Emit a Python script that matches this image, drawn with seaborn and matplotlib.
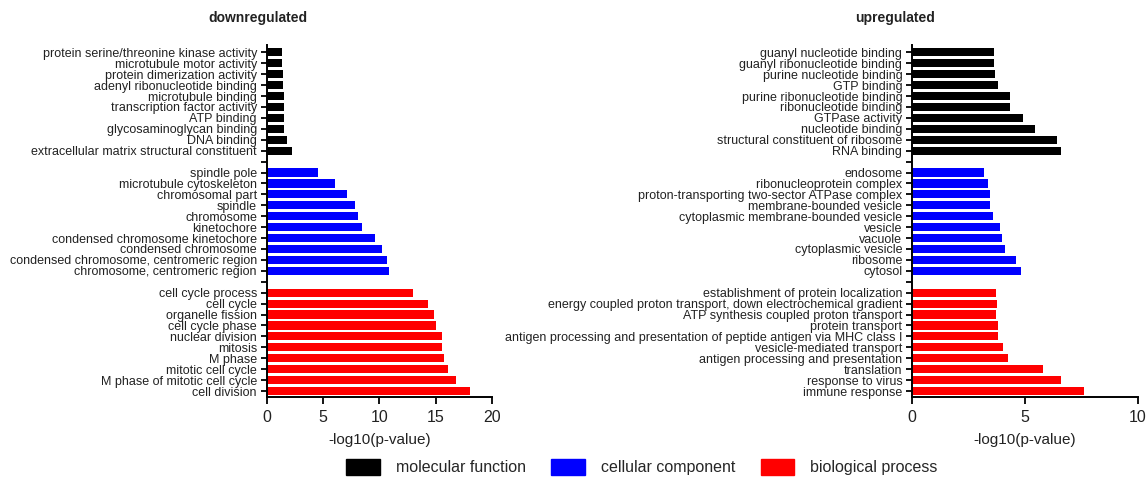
import matplotlib
matplotlib.use("Agg")
import matplotlib.pyplot as plt
from matplotlib.patches import Patch
import seaborn as sns
import pandas as pd

sns.set_theme(style="white")
plt.rcParams['font.family'] = ['Liberation Sans', 'DejaVu Sans']

groups = ["molecular function", "cellular component", "biological process"]
colors = ["#000000", "#0000FF", "#FF0000"]

down_mf = ["protein serine/threonine kinase activity", "microtubule motor activity",
           "protein dimerization activity", "adenyl ribonucleotide binding",
           "microtubule binding", "transcription factor activity", "ATP binding",
           "glycosaminoglycan binding", "DNA binding",
           "extracellular matrix structural constituent"]
down_mf_vals = [1.33, 1.33, 1.42, 1.45, 1.50, 1.54, 1.54, 1.57, 1.80, 2.24]
down_cc = ["spindle pole", "microtubule cytoskeleton", "chromosomal part", "spindle",
           "chromosome", "kinetochore", "condensed chromosome kinetochore",
           "condensed chromosome", "condensed chromosome, centromeric region",
           "chromosome, centromeric region"]
down_cc_vals = [4.52, 6.03, 7.16, 7.84, 8.07, 8.49, 9.61, 10.26, 10.67, 10.82]
down_bp = ["cell cycle process", "cell cycle", "organelle fission", "cell cycle phase",
           "nuclear division", "mitosis", "M phase", "mitotic cell cycle",
           "M phase of mitotic cell cycle", "cell division"]
down_bp_vals = [13.0, 14.3, 14.88, 15.0, 15.53, 15.53, 15.73, 16.06, 16.8, 18.01]

up_mf = ["guanyl nucleotide binding", "guanyl ribonucleotide binding",
         "purine nucleotide binding", "GTP binding", "purine ribonucleotide binding",
         "ribonucleotide binding", "GTPase activity", "nucleotide binding",
         "structural constituent of ribosome", "RNA binding"]
up_mf_vals = [3.64, 3.64, 3.69, 3.82, 4.32, 4.32, 4.90, 5.43, 6.43, 6.58]
up_cc = ["endosome", "ribonucleoprotein complex",
         "proton-transporting two-sector ATPase complex", "membrane-bounded vesicle",
         "cytoplasmic membrane-bounded vesicle", "vesicle", "vacuole",
         "cytoplasmic vesicle", "ribosome", "cytosol"]
up_cc_vals = [3.20, 3.35, 3.44, 3.45, 3.57, 3.89, 3.97, 4.12, 4.59, 4.82]
up_bp = ["establishment of protein localization",
         "energy coupled proton transport, down electrochemical gradient",
         "ATP synthesis coupled proton transport", "protein transport",
         "antigen processing and presentation of peptide antigen via MHC class I",
         "vesicle-mediated transport", "antigen processing and presentation",
         "translation", "response to virus", "immune response"]
up_bp_vals = [3.72, 3.75, 3.73, 3.81, 3.81, 4.03, 4.23, 5.78, 6.58, 7.61]

titles = ["downregulated", "upregulated"]
x_ticks = [[0, 5, 10, 15, 20], [0, 5, 10]]
x_limits = [(0, 20), (0, 10)]
xlabel = "-log10(p-value)"


def make_df(mf, mfv, cc, ccv, bp, bpv):
    rows = []
    for names, vals, g in [(mf, mfv, groups[0]), (cc, ccv, groups[1]), (bp, bpv, groups[2])]:
        for n, v in zip(names, vals):
            rows.append({"term": n, "value": v, "group": g})
    order = list(mf) + [" "] + list(cc) + ["  "] + list(bp)
    return pd.DataFrame(rows), order


panels = [make_df(down_mf, down_mf_vals, down_cc, down_cc_vals, down_bp, down_bp_vals),
          make_df(up_mf, up_mf_vals, up_cc, up_cc_vals, up_bp, up_bp_vals)]

fig = plt.figure(figsize=(11.46, 4.82), dpi=100)
axes = [fig.add_axes([0.2327, 0.1763, 0.1966, 0.7303]),
        fig.add_axes([0.7958, 0.1763, 0.1972, 0.7303])]
palette = dict(zip(groups, colors))

for i, ax in enumerate(axes):
    df, order = panels[i]
    sns.barplot(data=df, y="term", x="value", hue="group", order=order,
                palette=palette, dodge=False, legend=False, orient="h",
                width=0.75, ax=ax, saturation=1, linewidth=0)
    ax.set_ylim(31.55, -0.67)
    ax.set_xlim(*x_limits[i])
    ax.set_xticks(x_ticks[i])
    ax.set_xticklabels([str(t) for t in x_ticks[i]], fontsize=11.5, color="#222222")
    ax.set_ylabel("")
    ax.set_xlabel(xlabel, fontsize=11, color="#222222", labelpad=6)
    ax.tick_params(axis="y", labelsize=9, labelcolor="#222222", length=4,
                   width=1.3, color="black", left=True, pad=3)
    ax.tick_params(axis="x", length=5, width=1.3, color="black", bottom=True, pad=4)
    for s in ["top", "right"]:
        ax.spines[s].set_visible(False)
    for s in ["left", "bottom"]:
        ax.spines[s].set_color("black")
        ax.spines[s].set_linewidth(1.4)

fig.text(0.225, 0.963, titles[0], ha="center", va="center", fontsize=10,
         fontweight="bold", color="#222222")
fig.text(0.781, 0.963, titles[1], ha="center", va="center", fontsize=10,
         fontweight="bold", color="#222222")

handles = [Patch(facecolor=c, edgecolor=c) for c in colors]
fig.legend(handles, groups, loc="center", bbox_to_anchor=(0.56, 0.031), ncol=3,
           frameon=False, fontsize=11.5, handlelength=2.1, handleheight=1.2,
           columnspacing=1.6, handletextpad=1.0)

fig.savefig("out.png", dpi=100)
